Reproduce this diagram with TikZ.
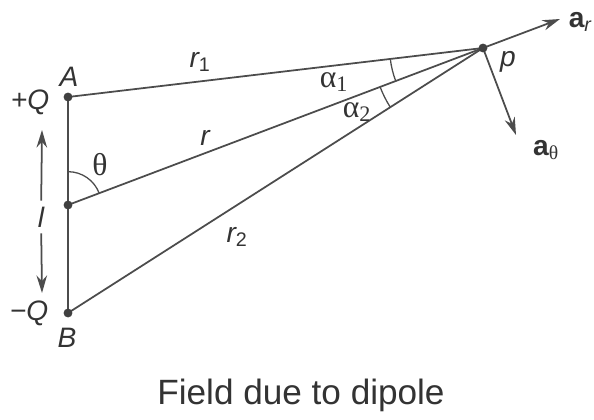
\documentclass[tikz,border=0pt]{standalone}
\usepackage{fontspec}
\setmainfont{Liberation Sans}
\newfontfamily\grk{Liberation Serif}
\usetikzlibrary{arrows.meta,angles}
\tikzset{
  wire/.style={draw=black!70, line width=1.5pt},
  vec/.style={wire, -{Stealth[length=15pt,width=9pt]}},
  arcmark/.style={draw=black!70, line width=1.1pt},
  lbl/.style={font=\fontsize{24}{28}\selectfont\itshape, text=black!80},
  glbl/.style={font=\fontsize{27}{30}\selectfont\grk, text=black!80},
  vlbl/.style={font=\fontsize{24}{28}\selectfont\bfseries, text=black!80},
}
\begin{document}
\begin{tikzpicture}[x=0.03cm, y=-0.03cm]
    \useasboundingbox (0,0) rectangle (594,419);

    \coordinate (A) at (68,97);
    \coordinate (O) at (68,205);
    \coordinate (B) at (68,313);
    \coordinate (P) at (483,48);
    \coordinate (ar) at (560,19);
    \coordinate (at) at (516,135);
    \coordinate (ltop) at (42,130);
    \coordinate (lbot) at (42,293);

    \draw[wire] (A) -- (B);
    \draw[wire] (A) -- (P);
    \draw[wire] (O) -- (P);
    \draw[wire] (B) -- (P);

    \draw[vec] (P) -- (ar);
    \draw[vec] (P) -- (at);

    \fill[black!75] (A) circle (3.8pt);
    \fill[black!75] (O) circle (3.8pt);
    \fill[black!75] (B) circle (3.8pt);
    \fill[black!75] (P) circle (3.8pt);

    \pic[arcmark, angle radius=2.8cm] {angle = A--P--O};
    \pic[arcmark, angle radius=3.3cm] {angle = O--P--B};
    \pic[arcmark, angle radius=1cm] {angle = P--O--A};

    \node[lbl] (Alab) at (69,77){A};
    \node[lbl] (Blab) at (67,338){B};
    \node[lbl] (plus) at (30,102){+Q};
    \node[lbl] (minus) at (29,313){−Q};
    \node[lbl] (plab) at (508,62){p};

    \node[lbl] (r1) at (200,62){r\textsubscript{\upshape 1}};
    \node[lbl] (r) at (205,138){r};
    \node[lbl] (r2) at (237,237){r\textsubscript{\upshape 2}};

    \node[glbl] (theta) at (100,165){θ};
    \node[glbl] (al1) at (334,82){α\textsubscript{1}};
    \node[glbl] (al2) at (357,112){α\textsubscript{2}};

    \node[vlbl, anchor=east, inner sep=1pt] (arlab) at (593,22){a\textsubscript{\mdseries\itshape r}};
    \node[vlbl] (atlab) at (546,150){a\textsubscript{\mdseries\grk θ}};

    \node[lbl, inner sep=5pt] (l) at (41,217){l};
    \draw[vec] (l) -- (ltop);
    \draw[vec] (l) -- (lbot);

    \node[font=\fontsize{30}{34}\selectfont, text=black!80] (title) at (301,395){Field due to dipole};
\end{tikzpicture}
\end{document}
